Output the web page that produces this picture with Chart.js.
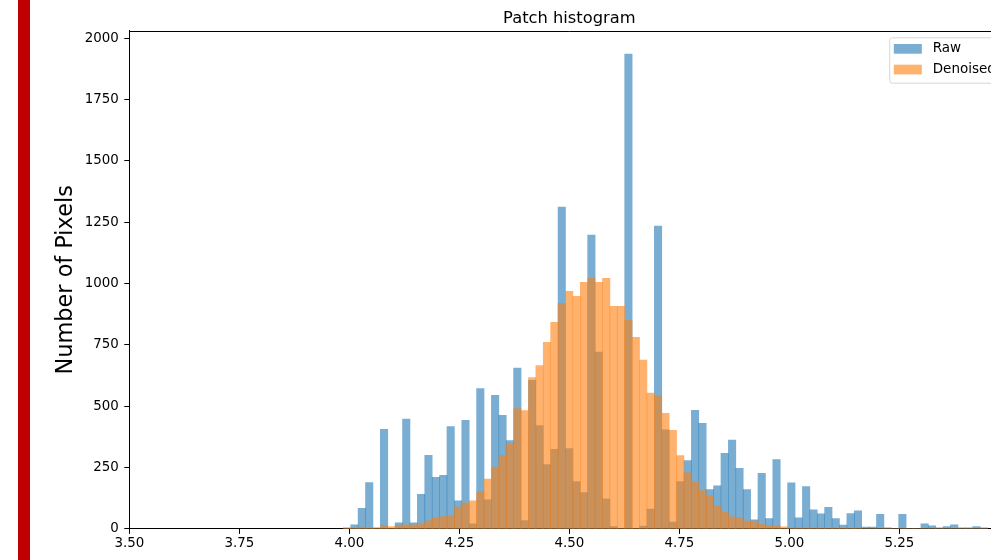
<!DOCTYPE html>
<html>
<head>
<meta charset="utf-8">
<script src="https://cdn.jsdelivr.net/npm/chart.js@4.4.1/dist/chart.umd.min.js"></script>
<style>
  html, body { margin: 0; padding: 0; background: #fff; overflow: hidden; }
  #wrap { position: relative; width: 991px; height: 560px; overflow: hidden; }
  #marker { position: absolute; left: 18px; top: 0; width: 12px; height: 560px; background: #c00000; }
  #hist { position: absolute; left: 0; top: 0; }
</style>
</head>
<body>
<div id="wrap">
  <canvas id="hist" width="1040" height="560"></canvas>
  <div id="marker"></div>
</div>
<script>
// --- Patch histogram: raw vs denoised ---

const titleText = 'Patch histogram';
const yLabel = 'Number of Pixels';
const seriesLabels = ['Raw', 'Denoised'];

// histogram bins (shared by both series)
const binStart = 3.9864;
const binWidth = 0.01683;

// counts per bin
const rawCounts = [
    0, 17, 84, 189, 0, 406, 0, 25, 447, 25,
    141, 300, 210, 218, 417, 114, 442, 21, 572, 118,
    544, 463, 360, 655, 34, 605, 421, 262, 324, 1311,
    327, 193, 148, 1197, 720, 123, 9, 0, 1935, 0,
    12, 81, 1234, 404, 28, 193, 278, 483, 430, 160,
    176, 308, 362, 247, 160, 37, 226, 42, 282, 0,
    188, 45, 172, 78, 61, 88, 42, 16, 62, 74,
    7, 7, 59, 4, 0, 59, 0, 0, 21, 13,
    4, 9, 17, 4, 4, 9, 4
];
const denoisedCounts = [
    5, 3, 7, 5, 5, 15, 9, 15, 17, 17,
    21, 33, 46, 50, 54, 89, 106, 114, 152, 203,
    252, 300, 347, 490, 482, 617, 665, 760, 842, 919,
    968, 948, 1005, 1021, 1005, 1021, 907, 907, 850, 781,
    688, 553, 543, 471, 402, 299, 228, 193, 156, 135,
    95, 69, 49, 47, 32, 32, 19, 14, 11, 8,
    5, 5, 4, 4, 4, 4, 3, 2, 4, 4,
    0, 0, 0, 0, 0, 0, 0, 0, 0, 0,
    0, 0, 0, 0, 0, 0, 0
];

const xTicks = [3.5, 3.75, 4.0, 4.25, 4.5, 4.75, 5.0, 5.25, 5.5];
const yTicks = [0, 250, 500, 750, 1000, 1250, 1500, 1750, 2000];
const xMin = 3.5, xMax = 5.5;
const yMax = 2030;

const FONT = '"DejaVu Sans", "Liberation Sans", sans-serif';

const binCenters = rawCounts.map((_, i) => binStart + (i + 0.5) * binWidth);
const toPoints = counts => counts.map((c, i) => ({ x: binCenters[i], y: c }));

// title, top/right spines and a matplotlib style legend box
const mplDecor = {
    id: 'mplDecor',
    afterDraw(chart) {
        const { ctx, chartArea: a } = chart;
        ctx.save();

        ctx.strokeStyle = '#000';
        ctx.lineWidth = 1;
        ctx.beginPath();
        ctx.moveTo(a.left, Math.round(a.top) + 0.5);
        ctx.lineTo(a.right, Math.round(a.top) + 0.5);
        ctx.moveTo(Math.round(a.right) - 0.5, a.top);
        ctx.lineTo(Math.round(a.right) - 0.5, a.bottom);
        ctx.stroke();

        ctx.fillStyle = '#000';
        ctx.font = '16.3px ' + FONT;
        ctx.textAlign = 'center';
        ctx.textBaseline = 'alphabetic';
        ctx.fillText(titleText, (a.left + a.right) / 2, a.top - 8.2);

        // legend
        const ds = chart.data.datasets;
        ctx.font = '13.5px ' + FONT;
        const textW = Math.max(...ds.map(d => ctx.measureText(d.label).width));
        const pad = 4.6, handleW = 28, handleH = 9.7, gap = 11.7, rowH = 20.7;
        const boxW = pad + handleW + gap + textW + pad + 1;
        const boxH = 45.4;
        const x0 = a.right - 7 - boxW, y0 = a.top + 6.6;

        ctx.beginPath();
        ctx.roundRect(x0 + 0.5, y0 + 0.5, boxW, boxH, 2.5);
        ctx.fillStyle = 'rgba(255,255,255,0.8)';
        ctx.fill();
        ctx.strokeStyle = '#d6d6d6';
        ctx.stroke();

        ctx.textAlign = 'left';
        ctx.textBaseline = 'middle';
        ds.forEach((d, r) => {
            const py = y0 + 6.7 + r * rowH;
            ctx.fillStyle = d.backgroundColor;
            ctx.fillRect(x0 + pad, py, handleW, handleH);
            ctx.fillStyle = '#000';
            ctx.fillText(d.label, x0 + pad + handleW + gap - 0.8, py + handleH / 2);
        });

        ctx.restore();
    }
};

const ctx = document.getElementById('hist');
const chart = new Chart(ctx, {
    type: 'bar',
    data: {
        datasets: [{
            label: seriesLabels[0],
            data: toPoints(rawCounts),
            backgroundColor: 'rgba(31,119,180,0.6)',
            borderWidth: 0,
            grouped: false,
            order: 2,
            barPercentage: 1.0,
            categoryPercentage: 1.0
        }, {
            label: seriesLabels[1],
            data: toPoints(denoisedCounts),
            backgroundColor: 'rgba(255,127,14,0.6)',
            borderWidth: 0,
            grouped: false,
            order: 1,
            barPercentage: 1.0,
            categoryPercentage: 1.0
        }]
    },
    options: {
        responsive: false,
        animation: false,
        devicePixelRatio: 1,
        events: [],
        layout: { padding: { left: 0, top: 30.7, right: 30.7, bottom: 0 } },
        plugins: {
            legend: { display: false },
            tooltip: { enabled: false },
            title: { display: false }
        },
        scales: {
            x: {
                type: 'linear',
                min: xMin,
                max: xMax,
                offset: false,
                afterBuildTicks: s => { s.ticks = xTicks.map(v => ({ value: v })); },
                ticks: {
                    callback: v => Number(v).toFixed(2),
                    autoSkip: false,
                    maxRotation: 0,
                    padding: 2,
                    color: '#000',
                    font: { family: FONT, size: 13.4 }
                },
                grid: { drawOnChartArea: false, tickLength: 5, color: '#000', offset: false },
                border: { color: '#000', width: 1 },
                afterFit: s => { s.height = 31.1; }
            },
            y: {
                min: 0,
                max: yMax,
                afterBuildTicks: s => { s.ticks = yTicks.map(v => ({ value: v })); },
                ticks: {
                    callback: v => String(v),
                    autoSkip: false,
                    padding: 5.5,
                    color: '#000',
                    font: { family: FONT, size: 13.4 }
                },
                grid: { drawOnChartArea: false, tickLength: 5, color: '#000' },
                border: { color: '#000', width: 1 },
                title: {
                    display: true,
                    text: yLabel,
                    color: '#000',
                    font: { family: FONT, size: 22.4 },
                    padding: { top: 53, bottom: 0 }
                },
                afterFit: s => { s.width = 129.3; }
            }
        }
    },
    plugins: [mplDecor]
});
</script>
</body>
</html>
